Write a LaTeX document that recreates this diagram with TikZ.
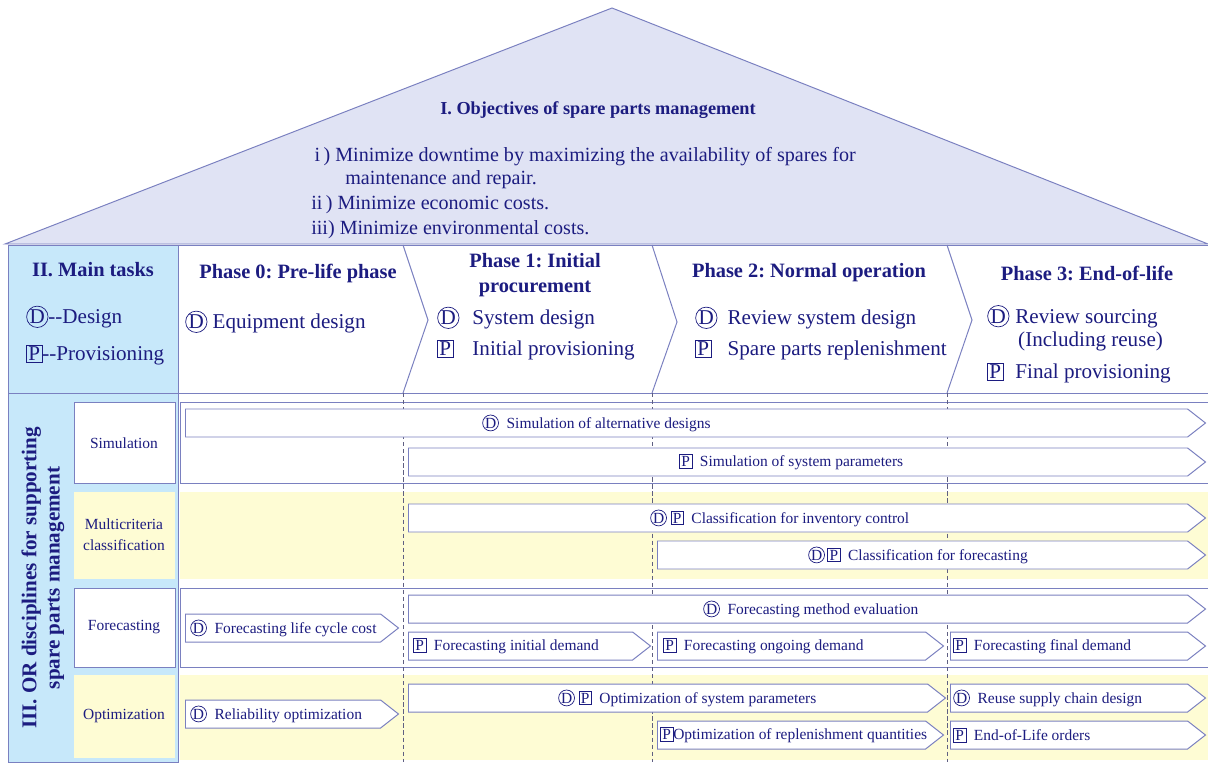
\documentclass[tikz,border=0pt]{standalone}
\usepackage{fontspec}
\setmainfont{Liberation Serif}
\usetikzlibrary{shapes.symbols}
\frenchspacing

\definecolor{roofblue}{RGB}{224,227,244}
\definecolor{rimline}{RGB}{122,128,192}
\definecolor{sideblue}{RGB}{199,232,250}
\definecolor{paleyellow}{RGB}{254,252,212}
\definecolor{navytext}{RGB}{28,28,128}
\definecolor{dashgray}{RGB}{95,95,130}

\newcommand{\pxu}{0.025cm}
\newcommand{\dmark}{\tikz[baseline=(dm.base)]\node[shape=circle,draw=navytext,line width=0.5pt,inner sep=0.2pt,minimum size=0pt,anchor=center](dm){D};}
\newcommand{\pmark}{\tikz[baseline=(pm.base)]\node[shape=rectangle,draw=navytext,line width=0.5pt,inner sep=1.3pt,minimum size=0pt,anchor=center](pm){P};}

\tikzset{
  taskbar/.style={shape=signal, signal to=east, signal pointer angle=76, draw=rimline, fill=white, line width=0.7pt, minimum height=28*\pxu, inner sep=0pt, anchor=west},
  tasktext/.style={anchor=west, inner sep=0pt, text=navytext, font=\fontsize{11}{12}\selectfont},
  itemtext/.style={anchor=west, inner sep=0pt, text=navytext, font=\fontsize{15}{16.5}\selectfont, align=left},
  rooftext/.style={anchor=west, inner sep=0pt, text=navytext, font=\fontsize{14.3}{16.5}\selectfont},
  headtext/.style={inner sep=0pt, text=navytext, font=\bfseries\fontsize{14.5}{17.5}\selectfont, align=center},
  disctext/.style={inner sep=0pt, text=navytext, font=\fontsize{11}{15}\selectfont, align=center},
  rowline/.style={draw=rimline, line width=0.7pt},
  phaseline/.style={draw=dashgray, dash pattern=on 3pt off 2pt, line width=0.5pt}
}

\begin{document}
\begin{tikzpicture}[x=\pxu, y=-\pxu]
\useasboundingbox (0,0) rectangle (1208,762);

% roof with the objectives
\filldraw[fill=roofblue, rowline] (5,244) -- (612,8) -- (1208,244) -- cycle;
\node[headtext, font=\bfseries\fontsize{13}{16}\selectfont] (objtitle) at (598,110) {I. Objectives of spare parts management};
\node[rooftext] (obj1) at (311,157) {\,i\,) Minimize downtime by maximizing the availability of spares for};
\node[rooftext] (obj1b) at (345,180) {maintenance and repair.};
\node[rooftext] (obj2) at (311,205) {ii\,) Minimize economic costs.};
\node[rooftext] (obj3) at (311,230) {iii) Minimize environmental costs.};

% left column
\filldraw[fill=sideblue, rowline] (8,245) rectangle (178,762);
\filldraw[fill=white, rowline] (178,245) rectangle (1208,393);
\draw[rowline] (8,393) -- (1208,393);

% phase chevrons
\draw[rowline] (403,245) -- (428,320) -- (403,393);
\draw[rowline] (652,245) -- (677,322) -- (652,393);
\draw[rowline] (947,245) -- (972,320) -- (947,393);

% rows of the disciplines
\filldraw[fill=white, rowline] (180,402) rectangle (1208,483);
\fill[paleyellow] (180,492) rectangle (1208,579);
\filldraw[fill=white, rowline] (180,588) rectangle (1208,667);
\fill[paleyellow] (180,675) rectangle (1208,760);

\filldraw[fill=white, rowline] (74,402) rectangle (175,483);
\fill[paleyellow] (74,492) rectangle (175,579);
\filldraw[fill=white, rowline] (74,588) rectangle (175,667);
\fill[paleyellow] (74,675) rectangle (175,758);

\draw[phaseline] (403,393) -- (403,762);
\draw[phaseline] (652,393) -- (652,762);
\draw[phaseline] (947,393) -- (947,762);

% main tasks
\node[headtext] (mainhd) at (93,270) {II. Main tasks};
\node[itemtext] (legd) at (26,317) {\dmark-{}-Design};
\node[itemtext] (legp) at (26,355) {\pmark-{}-Provisioning};

\node[headtext] (p0hd) at (298,273) {Phase 0: Pre-life phase};
\node[headtext] (p1hd) at (535,275) {Phase 1: Initial\\procurement};
\node[headtext] (p2hd) at (809,273) {Phase 2: Normal operation};
\node[headtext] (p3hd) at (1087,273) {Phase 3: End-of-life};

\node[itemtext] (p0d) at (185,322) {\dmark\ Equipment design};
\node[itemtext] (p1d) at (437,318) {\makebox[25pt][l]{\dmark}System design};
\node[itemtext] (p1p) at (437,350) {\makebox[25pt][l]{\pmark}Initial provisioning};
\node[itemtext] (p2d) at (695,318) {\makebox[23pt][l]{\dmark}Review system design};
\node[itemtext] (p2p) at (695,350) {\makebox[23pt][l]{\pmark}Spare parts replenishment};
\node[itemtext] (p3d) at (987,328) {\makebox[20pt][l]{\dmark}Review sourcing\\\hspace*{22pt}(Including reuse)};
\node[itemtext] (p3p) at (987,373) {\makebox[20pt][l]{\pmark}Final provisioning};

% OR disciplines
\node[headtext, rotate=90, font=\bfseries\fontsize{15}{16.5}\selectfont] (ortitle) at (43,578) {III. OR disciplines for supporting\\spare parts management};
\node[disctext] (simlbl) at (124,443) {Simulation};
\node[disctext] (mcclbl) at (124,535) {Multicriteria\\classification};
\node[disctext] (fcslbl) at (124,627) {Forecasting};
\node[disctext] (optlbl) at (124,716) {Optimization};

% simulation
\node[taskbar, minimum width=1020*\pxu] (simalt) at (185,423) {};
\node[tasktext] (simalt-t) at (482,423) {\dmark\enspace Simulation of alternative designs};
\node[taskbar, minimum width=797*\pxu] (simpar) at (408,462) {};
\node[tasktext] (simpar-t) at (679,462) {\pmark\enspace Simulation of system parameters};

% classification
\node[taskbar, minimum width=797*\pxu] (clsinv) at (408,518) {};
\node[tasktext] (clsinv-t) at (650,518) {\dmark\ \pmark\enspace Classification for inventory control};
\node[taskbar, minimum width=548*\pxu] (clsfc) at (657,555) {};
\node[tasktext] (clsfc-t) at (808,555) {\dmark\,\pmark\enspace Classification for forecasting};

% forecasting
\node[taskbar, minimum width=797*\pxu] (fcmeth) at (408,609) {};
\node[tasktext] (fcmeth-t) at (703,609) {\dmark\enspace Forecasting method evaluation};
\node[taskbar, minimum width=213*\pxu] (fclcc) at (185,628) {};
\node[tasktext] (fclcc-t) at (190,628) {\dmark\enspace Forecasting life cycle cost};
\node[taskbar, minimum width=242*\pxu] (fcinit) at (408,646) {};
\node[tasktext] (fcinit-t) at (413,646) {\pmark\enspace Forecasting initial demand};
\node[taskbar, minimum width=286*\pxu] (fcong) at (657,646) {};
\node[tasktext] (fcong-t) at (663,646) {\pmark\enspace Forecasting ongoing demand};
\node[taskbar, minimum width=255*\pxu] (fcfin) at (950,646) {};
\node[tasktext] (fcfin-t) at (953,646) {\pmark\enspace Forecasting final demand};

% optimization
\node[taskbar, minimum width=213*\pxu] (relopt) at (185,714) {};
\node[tasktext] (relopt-t) at (190,714) {\dmark\enspace Reliability optimization};
\node[taskbar, minimum width=537*\pxu] (optsys) at (408,698) {};
\node[tasktext] (optsys-t) at (558,698) {\dmark\ \pmark\enspace Optimization of system parameters};
\node[taskbar, minimum width=286*\pxu] (optrep) at (657,735) {};
\node[tasktext] (optrep-t) at (660,735) {\pmark Optimization of replenishment quantities};
\node[taskbar, minimum width=255*\pxu] (reuse) at (950,698) {};
\node[tasktext] (reuse-t) at (953,698) {\dmark\enspace Reuse supply chain design};
\node[taskbar, minimum width=255*\pxu] (eolord) at (950,735) {};
\node[tasktext] (eolord-t) at (953,735) {\pmark\enspace End-of-Life orders};
\end{tikzpicture}
\end{document}
